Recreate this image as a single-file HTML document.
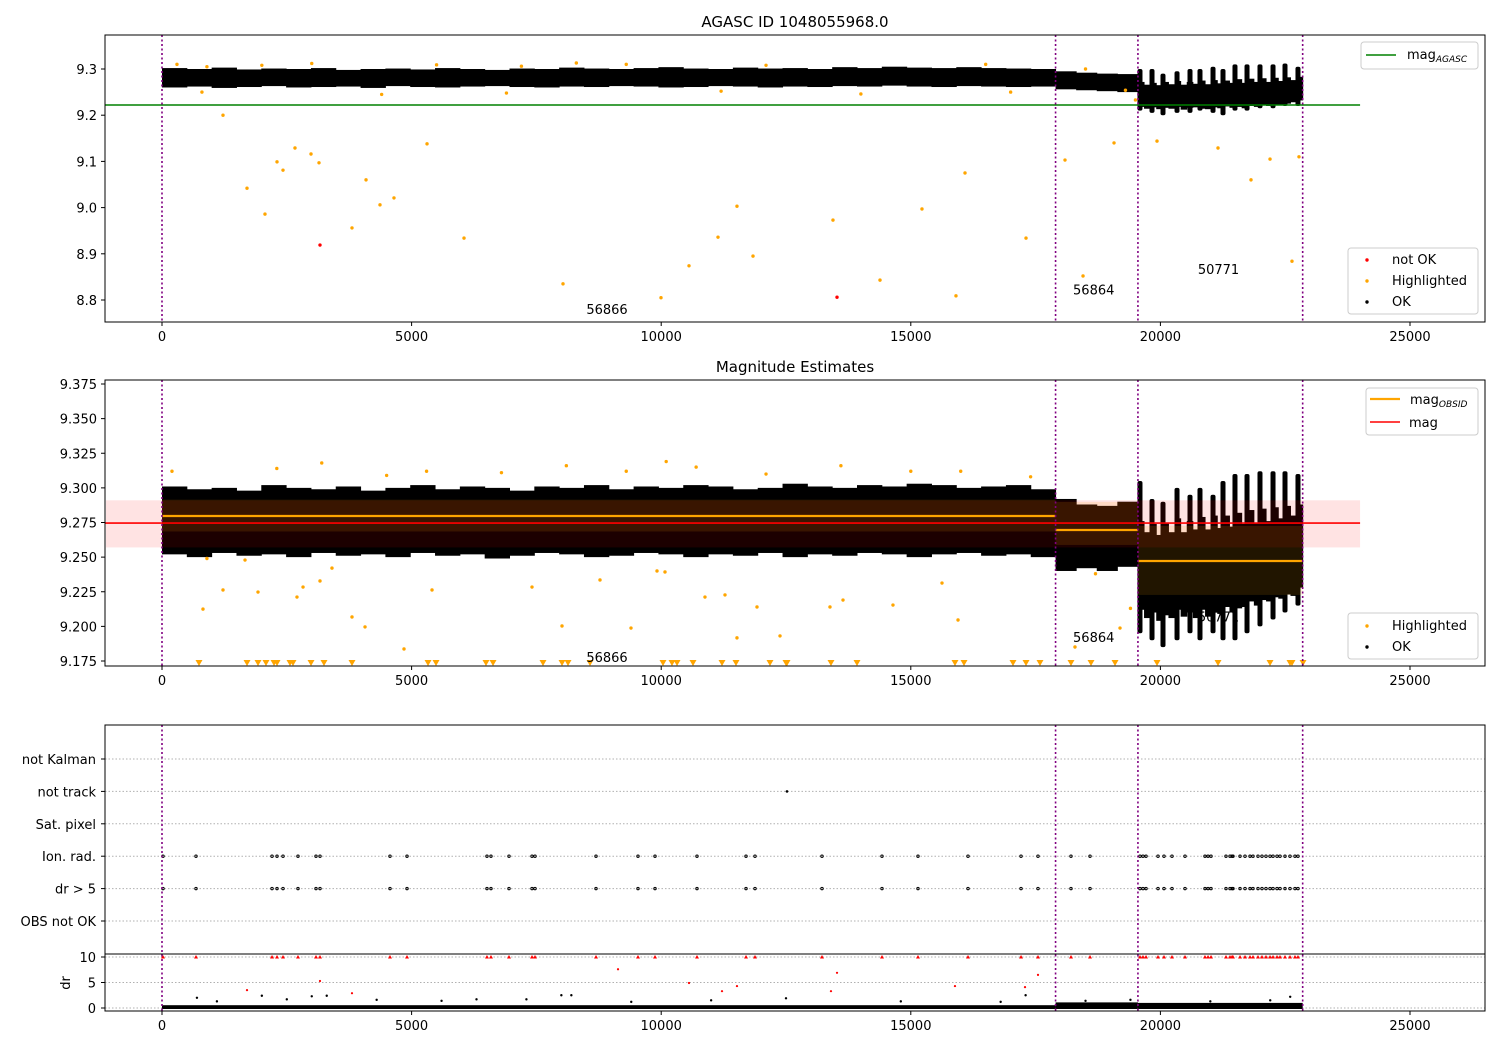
<!DOCTYPE html>
<html><head><meta charset="utf-8"><style>
html,body{margin:0;padding:0;background:#fff;width:1500px;height:1050px;overflow:hidden}
svg{display:block;font-family:"DejaVu Sans","Liberation Sans",sans-serif}
</style></head><body>
<svg id="chart" width="1500" height="1050" viewBox="0 0 1500 1050" xmlns="http://www.w3.org/2000/svg">
<text x="795" y="27" font-size="15" text-anchor="middle">AGASC ID 1048055968.0</text>
<text x="795" y="372" font-size="15" text-anchor="middle">Magnitude Estimates</text>
<g id="layer"></g>
</svg>
<script>
// ---------- data ----------
const obsBounds = [0, 17900, 19550, 22850];
const obsLabels = ["56866", "56864", "50771"];
const magAgasc = 9.222;
const magMean = 9.2746, magLo = 9.257, magHi = 9.291;
const obsMag = [9.2797, 9.2696, 9.2472];
const obsStdLo = [9.2685, 9.2588, 9.2227];
const obsStdHi = [9.2915, 9.2898, 9.2725];
// band bins segment 1 (500 wide from 0)
const seg1Hi1 = [9.302,9.300,9.303,9.299,9.301,9.300,9.302,9.298,9.300,9.301,9.299,9.302,9.300,9.298,9.301,9.300,9.303,9.301,9.300,9.302,9.304,9.301,9.300,9.303,9.301,9.302,9.300,9.304,9.302,9.305,9.303,9.302,9.304,9.302,9.301,9.300];
const seg1Lo1 = [9.260,9.262,9.259,9.261,9.263,9.260,9.261,9.262,9.259,9.263,9.261,9.260,9.262,9.263,9.261,9.260,9.262,9.261,9.263,9.262,9.260,9.261,9.263,9.262,9.260,9.262,9.261,9.263,9.262,9.264,9.262,9.261,9.263,9.262,9.261,9.262];
const seg1Hi2 = [9.301,9.299,9.300,9.298,9.302,9.300,9.299,9.301,9.298,9.300,9.302,9.299,9.301,9.300,9.298,9.301,9.300,9.302,9.299,9.301,9.300,9.302,9.301,9.299,9.300,9.303,9.301,9.300,9.302,9.301,9.303,9.302,9.300,9.301,9.302,9.299];
const seg1Lo2 = [9.252,9.250,9.253,9.251,9.252,9.250,9.253,9.251,9.252,9.250,9.253,9.251,9.252,9.249,9.251,9.253,9.252,9.250,9.251,9.253,9.252,9.250,9.252,9.251,9.253,9.250,9.252,9.251,9.253,9.252,9.250,9.252,9.253,9.251,9.252,9.250];
// segment 2 bins (4 bins)
const seg2Hi1 = [9.295,9.292,9.290,9.289];
const seg2Lo1 = [9.256,9.254,9.252,9.250];
const seg2Hi2 = [9.292,9.288,9.287,9.290];
const seg2Lo2 = [9.240,9.242,9.240,9.243];
// segment 3 base bins (27 bins)
const seg3Hi1 = [9.272,9.266,9.270,9.265,9.272,9.267,9.274,9.266,9.272,9.268,9.275,9.267,9.276,9.269,9.275,9.270,9.278,9.270,9.279,9.272,9.280,9.272,9.281,9.274,9.282,9.276,9.283];
const seg3Lo1 = [9.218,9.214,9.217,9.213,9.216,9.214,9.218,9.212,9.216,9.217,9.214,9.213,9.217,9.215,9.219,9.216,9.218,9.215,9.220,9.218,9.221,9.220,9.223,9.222,9.225,9.228,9.232];
const seg3Hi2 = [9.276,9.268,9.274,9.266,9.275,9.268,9.278,9.268,9.276,9.270,9.279,9.270,9.280,9.271,9.280,9.272,9.282,9.274,9.284,9.275,9.285,9.276,9.286,9.278,9.287,9.280,9.288];
const seg3Lo2 = [9.212,9.206,9.210,9.204,9.208,9.206,9.212,9.207,9.210,9.206,9.212,9.207,9.210,9.209,9.214,9.210,9.213,9.214,9.218,9.215,9.219,9.218,9.221,9.220,9.223,9.222,9.228];
// segment 3 variability spikes
const spikeT = [19591,19832,20052,20333,20593,20793,21054,21254,21494,21735,21995,22256,22496,22756];
const spikeHi1 = [9.300,9.300,9.290,9.295,9.300,9.300,9.305,9.300,9.310,9.310,9.310,9.310,9.312,9.305];
const spikeLo1 = [9.210,9.205,9.200,9.205,9.205,9.210,9.205,9.200,9.210,9.210,9.215,9.215,9.220,9.220];
const spikeHi2 = [9.305,9.292,9.290,9.300,9.295,9.300,9.295,9.305,9.310,9.310,9.312,9.312,9.312,9.310];
const spikeLo2 = [9.195,9.190,9.185,9.190,9.195,9.190,9.195,9.190,9.190,9.195,9.200,9.205,9.210,9.215];
// highlighted points panel 1
const hl1T = [1222,1703,2063,2304,2424,2664,2985,3145,3806,4087,4367,4647,5309,6050,8033,9996,10557,11138,11518,11839,13441,14383,15224,15905,16086,17308,18089,18450,19071,19932,21154,21815,22196,22636,22776,300,900,2000,3000,5500,7200,8300,9300,12100,16500,18500,19300,800,4400,6900,11200,14000,17000,19500];
const hl1M = [9.200,9.042,8.986,9.099,9.081,9.129,9.116,9.097,8.956,9.060,9.006,9.021,9.138,8.934,8.835,8.805,8.874,8.936,9.003,8.895,8.973,8.843,8.997,8.809,9.075,8.934,9.103,8.852,9.140,9.144,9.129,9.060,9.105,8.884,9.110,9.310,9.305,9.308,9.312,9.309,9.306,9.313,9.310,9.308,9.310,9.300,9.254,9.250,9.245,9.248,9.252,9.246,9.250,9.233];
const notOkT = [3165, 13522];
const notOkM = [8.919, 8.806];
// highlighted panel 2
const hl2T = [821,1222,1663,1923,2704,2825,3165,3405,3806,4067,4848,5409,7412,8013,8774,9395,9916,10076,10877,11278,11518,11919,12380,13381,13642,14643,15946,15625,19191,18289,200,2300,3200,4500,5300,6800,8100,9300,10100,10700,12100,13600,15000,16000,17400,19400,900,18700];
const hl2M = [9.2125,9.2263,9.2479,9.2248,9.2212,9.2284,9.2328,9.2421,9.2068,9.1996,9.1837,9.2263,9.2284,9.2003,9.2335,9.1988,9.2400,9.2393,9.2212,9.2227,9.1917,9.2140,9.1931,9.2140,9.2190,9.2154,9.2046,9.2313,9.1988,9.1851,9.312,9.314,9.318,9.309,9.312,9.311,9.316,9.312,9.319,9.315,9.310,9.316,9.312,9.312,9.308,9.213,9.249,9.238];
const lowTriT = [741,1703,1923,2083,2244,2304,2564,2624,2985,3245,3806,5329,5489,6490,6631,7632,8013,8133,8574,10036,10216,10317,10637,11218,11498,12179,12500,12520,13401,13922,15885,16066,17047,17308,17588,18209,18610,19091,19932,21154,22196,22596,22636,22857];
// flags
const categories = ["not Kalman","not track","Sat. pixel","Ion. rad.","dr > 5","OBS not OK"];
const ionT = [20,681,2204,2304,2424,2724,3085,3165,4567,4908,6510,6590,6951,7412,7472,8694,9535,9876,10717,11699,11879,13221,14423,15144,16146,17208,17548,18209,18590,19591,19651,19712,19952,20072,20232,20493,20893,20954,21014,21314,21394,21434,21454,21595,21695,21795,21855,21955,22035,22115,22196,22256,22336,22396,22496,22596,22696,22756];
const notTrackT = [12520];
// dr
const drMidT = [1703,3165,3806,9135,10557,11218,11518,13401,13522,15885,17288,17548];
const drMidV = [3.5,5.3,2.9,7.6,4.9,3.3,4.3,3.3,6.9,4.3,4.1,6.5];
const drOutT = [700,1100,2000,2500,3000,3300,4300,5600,6300,7300,8000,8200,9400,11000,12500,14800,16800,17300,18500,19400,21000,22200,22600];
const drOutV = [2.0,1.3,2.4,1.7,2.3,2.4,1.6,1.4,1.7,1.7,2.5,2.5,1.2,1.5,1.9,1.3,1.2,2.5,1.4,1.6,1.3,1.5,2.2];
const drBandHi = [0.55, 1.1, 1.0];
// ticks
const xTicks = [0,5000,10000,15000,20000,25000];
const y1Ticks = [8.8,8.9,9.0,9.1,9.2,9.3];
const y2Ticks = [9.175,9.200,9.225,9.250,9.275,9.300,9.325,9.350,9.375];
const drTicks = [0,5,10];

// ---------- scales ----------
const X0 = 105, X1 = 1485;
const xs = t => 162 + t * 0.04992;
const y1 = m => 69 + (9.3 - m) * 462;
const y2 = m => 384 + (9.375 - m) * 1385;
const yc = i => 759 + i * 32.4;
const yd = d => 1008 - d * 5.1;
const P1 = [35, 322], P2 = [380, 666], P3 = [725, 1011];

const NS = "http://www.w3.org/2000/svg";
const layer = document.getElementById('layer');
function add(tag, attrs, name) {
  const el = document.createElementNS(NS, tag);
  for (const k in attrs) el.setAttribute(k, attrs[k]);
  
  
  layer.appendChild(el);
  return el;
}
function txt(x, y, s, name, extra) {
  const el = add('text', Object.assign({x: x, y: y, 'font-size': 13}, extra || {}), name);
  el.textContent = s;
  return el;
}
function dot(x, y, r, fill, name) { return add('circle', {cx: x, cy: y, r: r, fill: fill}, name); }

function clip(id, top, bot) {
  const cp = document.createElementNS(NS, 'clipPath');
  cp.setAttribute('id', id);
  const r = document.createElementNS(NS, 'rect');
  r.setAttribute('x', X0); r.setAttribute('y', top); r.setAttribute('width', X1 - X0); r.setAttribute('height', bot - top);
  cp.appendChild(r); layer.appendChild(cp);
}
clip('c1', P1[0], P1[1]); clip('c2', P2[0], P2[1]);

function bins(segIdx, n, his, los, ys, name, clipId) {
  const a = obsBounds[segIdx], b = obsBounds[segIdx + 1];
  const w = (b - a) / n;
  for (let i = 0; i < n; i++) {
    add('rect', {x: xs(a + i * w), y: ys(his[i]), width: xs(a + (i + 1) * w) - xs(a + i * w) + 0.5, height: ys(los[i]) - ys(his[i]), fill: '#000', 'clip-path': 'url(#' + clipId + ')'}, name);
  }
}
function spikes(his, los, ys, name) {
  spikeT.forEach((t, i) => {
    add('rect', {x: xs(t) - 2.5, y: ys(his[i]), width: 5, height: ys(los[i]) - ys(his[i]), rx: 2, fill: '#000'}, name);
  });
}
function vlines(top, bot, panel) {
  obsBounds.forEach(t => {
    add('line', {x1: xs(t), x2: xs(t), y1: top, y2: bot, stroke: '#800080', 'stroke-width': 1.6, 'stroke-dasharray': '2,2.5'}, panel + '-obs-boundary');
  });
}
function xAxis(bot, panel) {
  xTicks.forEach(t => {
    add('line', {x1: xs(t), x2: xs(t), y1: bot, y2: bot + 4, stroke: '#000'}, panel + '-x-tick');
    txt(xs(t), bot + 19, String(t), panel + '-x-tick-label', {'text-anchor': 'middle'});
  });
}
function frame(top, bot, panel) {
  add('rect', {x: X0, y: top, width: X1 - X0, height: bot - top, fill: 'none', stroke: '#000', 'stroke-width': 1}, panel + '-frame');
}

// ---------- panel 1 ----------
bins(0, seg1Hi1.length, seg1Hi1, seg1Lo1, y1, 'p1-ok-cloud', 'c1');
bins(1, seg2Hi1.length, seg2Hi1, seg2Lo1, y1, 'p1-ok-cloud', 'c1');
bins(2, seg3Hi1.length, seg3Hi1, seg3Lo1, y1, 'p1-ok-cloud', 'c1');
spikes(spikeHi1, spikeLo1, y1, 'p1-variability-spike');
hl1T.forEach((t, i) => dot(xs(t), y1(hl1M[i]), 1.7, '#ffa500', 'p1-highlighted-point'));
notOkT.forEach((t, i) => dot(xs(t), y1(notOkM[i]), 1.7, '#ff0000', 'p1-not-ok-point'));
add('line', {x1: X0, x2: xs(24000), y1: y1(magAgasc), y2: y1(magAgasc), stroke: '#008000', 'stroke-width': 1.5}, 'mag-agasc-line');
vlines(P1[0], P1[1], 'p1');
const lab1 = [[8500, 8.78], [18250, 8.823], [20750, 8.867]];
obsLabels.forEach((s, i) => txt(xs(lab1[i][0]), y1(lab1[i][1]) + 5, s, 'p1-obsid-label'));
y1Ticks.forEach(m => {
  add('line', {x1: X0 - 4, x2: X0, y1: y1(m), y2: y1(m), stroke: '#000'}, 'p1-y-tick');
  txt(X0 - 8, y1(m) + 5, m.toFixed(1), 'p1-y-tick-label', {'text-anchor': 'end'});
});
xAxis(P1[1], 'p1'); frame(P1[0], P1[1], 'p1');

// ---------- panel 2 ----------
bins(0, seg1Hi2.length, seg1Hi2, seg1Lo2, y2, 'p2-ok-cloud', 'c2');
bins(1, seg2Hi2.length, seg2Hi2, seg2Lo2, y2, 'p2-ok-cloud', 'c2');
bins(2, seg3Hi2.length, seg3Hi2, seg3Lo2, y2, 'p2-ok-cloud', 'c2');
spikes(spikeHi2, spikeLo2, y2, 'p2-variability-spike');
add('rect', {x: X0 + 1, y: y2(magHi), width: xs(24000) - X0 - 1, height: y2(magLo) - y2(magHi), fill: 'rgba(255,0,0,0.11)'}, 'mag-std-band');
obsMag.forEach((m, i) => {
  add('rect', {x: xs(obsBounds[i]), y: y2(obsStdHi[i]), width: xs(obsBounds[i + 1]) - xs(obsBounds[i]), height: y2(obsStdLo[i]) - y2(obsStdHi[i]), fill: 'rgba(255,165,0,0.13)'}, 'obsid-std-band');
});
hl2T.forEach((t, i) => dot(xs(t), y2(hl2M[i]), 1.7, '#ffa500', 'p2-highlighted-point'));
lowTriT.forEach(t => {
  const x = xs(t), y = 663;
  add('polygon', {points: (x - 3.5) + ',' + (y - 3) + ' ' + (x + 3.5) + ',' + (y - 3) + ' ' + x + ',' + (y + 3), fill: '#ffa500'}, 'p2-below-range-marker');
});
obsMag.forEach((m, i) => {
  add('line', {x1: xs(obsBounds[i]), x2: xs(obsBounds[i + 1]), y1: y2(m), y2: y2(m), stroke: '#ffa500', 'stroke-width': 2.2}, 'mag-obsid-line');
});
add('line', {x1: X0, x2: xs(24000), y1: y2(magMean), y2: y2(magMean), stroke: '#ff0000', 'stroke-width': 1.6}, 'mag-line');
vlines(P2[0], P2[1], 'p2');
const lab2 = [[8500, 9.178], [18250, 9.1925], [20750, 9.207]];
obsLabels.forEach((s, i) => txt(xs(lab2[i][0]), y2(lab2[i][1]) + 5, s, 'p2-obsid-label'));
y2Ticks.forEach(m => {
  add('line', {x1: X0 - 4, x2: X0, y1: y2(m), y2: y2(m), stroke: '#000'}, 'p2-y-tick');
  txt(X0 - 8, y2(m) + 5, m.toFixed(3), 'p2-y-tick-label', {'text-anchor': 'end'});
});
xAxis(P2[1], 'p2'); frame(P2[0], P2[1], 'p2');

// ---------- panel 3 ----------
categories.forEach((c, i) => {
  add('line', {x1: X0, x2: X1, y1: yc(i), y2: yc(i), stroke: '#b0b0b0', 'stroke-dasharray': '1.5,2'}, 'flag-grid-line');
  add('line', {x1: X0 - 4, x2: X0, y1: yc(i), y2: yc(i), stroke: '#000'}, 'flag-y-tick');
  txt(X0 - 9, yc(i) + 5, c, 'flag-category-label', {'text-anchor': 'end'});
});
drTicks.forEach(d => {
  add('line', {x1: X0, x2: X1, y1: yd(d), y2: yd(d), stroke: '#b0b0b0', 'stroke-dasharray': '1.5,2'}, 'dr-grid-line');
  add('line', {x1: X0 - 4, x2: X0, y1: yd(d), y2: yd(d), stroke: '#000'}, 'dr-y-tick');
  txt(X0 - 9, yd(d) + 5, String(d), 'dr-y-tick-label', {'text-anchor': 'end'});
});
txt(0, 0, 'dr', 'dr-axis-title', {transform: 'translate(70,983) rotate(-90)', 'text-anchor': 'middle'});
ionT.forEach(t => {
  dot(xs(t), yc(3), 1.2, 'none', 'ion-rad-flag').setAttribute('stroke', '#000');
  dot(xs(t), yc(4), 1.2, 'none', 'dr-gt-5-flag').setAttribute('stroke', '#000');
  add('polygon', {points: (xs(t) - 2) + ',' + (yd(10) + 1.5) + ' ' + (xs(t) + 2) + ',' + (yd(10) + 1.5) + ' ' + xs(t) + ',' + (yd(10) - 2), fill: '#ff0000'}, 'dr-capped-marker');
});
notTrackT.forEach(t => dot(xs(t), yc(1), 1.3, '#000', 'not-track-flag'));
obsBounds.slice(0, 3).forEach((a, i) => {
  add('rect', {x: xs(a), y: yd(drBandHi[i]), width: xs(obsBounds[i + 1]) - xs(a), height: yd(0) - yd(drBandHi[i]) + 1, fill: '#000'}, 'dr-ok-cloud');
});
drOutT.forEach((t, i) => dot(xs(t), yd(drOutV[i]), 1.2, '#000', 'dr-ok-point'));
drMidT.forEach((t, i) => dot(xs(t), yd(drMidV[i]), 1.1, '#ff0000', 'dr-high-point'));
vlines(P3[0], P3[1], 'p3');
add('line', {x1: X0, x2: X1, y1: 954, y2: 954, stroke: '#000', 'stroke-width': 1}, 'dr-subaxis-top');
xAxis(P3[1], 'p3'); frame(P3[0], P3[1], 'p3');

// ---------- legends ----------
function legendBox(x, y, w, h, name) {
  add('rect', {x: x, y: y, width: w, height: h, rx: 3, fill: 'rgba(255,255,255,0.85)', stroke: '#ccc'}, name);
}
legendBox(1361, 42, 117, 27, 'legend-mag-agasc');
add('line', {x1: 1366, x2: 1396, y1: 55, y2: 55, stroke: '#008000', 'stroke-width': 1.5}, 'legend-mag-agasc-swatch');
const la = txt(1407, 59, 'mag', 'legend-mag-agasc-label');
const sub = document.createElementNS(NS, 'tspan'); sub.setAttribute('font-size', '9'); sub.setAttribute('font-style', 'italic'); sub.setAttribute('dy', '3'); sub.textContent = 'AGASC'; la.appendChild(sub);

legendBox(1348, 248, 130, 66, 'legend-p1-points');
dot(1367, 260, 1.7, '#ff0000', 'legend-not-ok-marker'); txt(1392, 264, 'not OK', 'legend-not-ok-label');
dot(1367, 281, 1.7, '#ffa500', 'legend-highlighted-marker'); txt(1392, 285, 'Highlighted', 'legend-highlighted-label');
dot(1367, 302, 1.7, '#000', 'legend-ok-marker'); txt(1392, 306, 'OK', 'legend-ok-label');

legendBox(1366, 388, 112, 47, 'legend-mag');
add('line', {x1: 1370, x2: 1400, y1: 399, y2: 399, stroke: '#ffa500', 'stroke-width': 2.2}, 'legend-mag-obsid-swatch');
const lb = txt(1410, 404, 'mag', 'legend-mag-obsid-label');
const sub2 = document.createElementNS(NS, 'tspan'); sub2.setAttribute('font-size', '9'); sub2.setAttribute('font-style', 'italic'); sub2.setAttribute('dy', '3'); sub2.textContent = 'OBSID'; lb.appendChild(sub2);
add('line', {x1: 1370, x2: 1400, y1: 422, y2: 422, stroke: '#ff0000', 'stroke-width': 1.6}, 'legend-mag-swatch');
txt(1409, 427, 'mag', 'legend-mag-label');

legendBox(1348, 613, 130, 46, 'legend-p2-points');
dot(1367, 626, 1.7, '#ffa500', 'legend-p2-highlighted-marker'); txt(1392, 630, 'Highlighted', 'legend-p2-highlighted-label');
dot(1367, 647, 1.7, '#000', 'legend-p2-ok-marker'); txt(1392, 651, 'OK', 'legend-p2-ok-label');
</script>
</body></html>
